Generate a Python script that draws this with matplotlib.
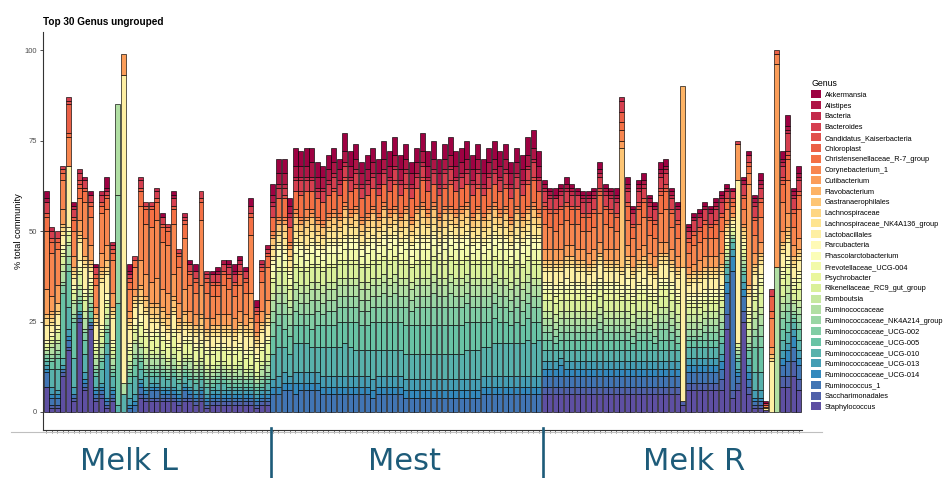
import numpy as np
import matplotlib
matplotlib.use("Agg")
import matplotlib.pyplot as plt
from matplotlib.colors import LinearSegmentedColormap
from matplotlib.patches import Patch
from matplotlib.lines import Line2D

# genus names, first level is drawn on top of each stack
genus = ["Akkermansia", "Alistipes", "Bacteria", "Bacteroides", "Candidatus_Kaiserbacteria",
         "Chloroplast", "Christensenellaceae_R-7_group", "Corynebacterium_1", "Cutibacterium",
         "Flavobacterium", "Gastranaerophilales", "Lachnospiraceae", "Lachnospiraceae_NK4A136_group",
         "Lactobacillales", "Parcubacteria", "Phascolarctobacterium", "Prevotellaceae_UCG-004",
         "Psychrobacter", "Rikenellaceae_RC9_gut_group", "Romboutsia", "Ruminococcaceae",
         "Ruminococcaceae_NK4A214_group", "Ruminococcaceae_UCG-002", "Ruminococcaceae_UCG-005",
         "Ruminococcaceae_UCG-010", "Ruminococcaceae_UCG-013", "Ruminococcaceae_UCG-014",
         "Ruminococcus_1", "Saccharimonadales", "Staphylococcus"]

groups = ["Melk L", "Mest", "Melk R"]

# % abundance per sample, one row per sample, columns follow `genus`
melk_l = [
    [2,1,0,3,0,1, 4,16,7,0,1,2, 0,4,1,0,0,1, 1,0,1,0,1,1, 1,1,1,4,0,7],
    [0,0,1,2,0,1, 3,12,4,1,1,1, 1,2,1,0,0,1, 1,1,2,1,1,2, 5,2,1,2,1,1],
    [0,0,0,2,0,1, 2,10,5,0,2,1, 0,3,1,0,0,1, 2,1,2,1,1,3, 6,1,1,2,1,1],
    [0,0,0,1,0,1, 2,8,4,0,1,1, 1,3,1,0,1,1, 2,2,3,1,2,18, 2,1,0,1,1,10],
    [0,0,0,1,1,8, 1,8,0,0,0,0, 0,17,1,0,0,1, 2,1,3,2,2,10, 6,2,1,2,1,17],
    [1,0,1,2,0,1, 3,7,3,0,1,1, 1,2,1,0,0,1, 2,1,3,1,1,10, 8,2,0,1,1,3],
    [0,0,1,2,1,1, 3,6,3,1,0,1, 1,5,2,0,1,1, 3,1,2,1,1,2, 0,1,0,1,1,25],
    [0,1,0,2,0,1, 3,10,5,0,1,1, 1,6,1,0,1,1, 3,2,3,1,2,4, 5,2,1,1,1,6],
    [1,0,0,2,0,1, 3,8,4,0,1,1, 1,2,1,0,1,1, 1,1,2,1,1,2, 1,0,0,1,1,23],
    [1,0,0,2,0,1, 2,6,2,0,1,1, 1,4,1,0,1,1, 1,1,2,1,1,1, 3,1,1,1,1,3],
    [0,0,1,2,0,1, 2,11,4,1,1,1, 1,12,1,0,1,1, 2,1,2,1,1,2, 4,1,1,1,1,4],
    [3,1,0,1,0,1, 3,10,4,0,2,1, 1,5,2,0,1,1, 2,1,2,1,1,3, 3,12,1,1,1,1],
    [0,0,1,1,0,1, 2,9,4,0,1,1, 1,6,1,0,1,1, 1,1,2,1,1,1, 3,1,1,1,1,3],
    [0,0,0,0,0,0, 0,0,0,0,0,0, 0,0,0,0,0,0, 0,0,25,30,0,28, 2,0,0,0,0,0],
    [0,0,0,0,0,0, 0,0,6,0,0,0, 0,85,0,0,0,0, 0,0,3,0,0,0, 5,0,0,0,0,0],
    [2,1,0,1,0,1, 2,6,2,0,1,1, 1,4,1,0,1,1, 2,1,1,1,1,2, 4,2,1,1,0,0],
    [0,0,0,1,0,0, 2,6,2,0,1,1, 1,3,2,0,1,1, 2,1,3,1,2,3, 5,2,1,2,0,0],
    [0,0,1,2,0,1, 4,15,7,1,2,1, 1,3,2,0,1,3, 2,1,2,1,1,2, 3,1,1,2,1,4],
    [0,0,0,1,0,1, 4,14,6,1,2,1, 1,4,1,0,1,3, 2,1,2,1,1,1, 3,1,1,1,1,3],
    [0,0,0,1,0,1, 5,15,6,1,2,1, 1,3,1,0,1,3, 1,1,2,1,1,1, 2,1,1,2,1,3],
    [0,0,1,2,0,1, 5,16,7,1,2,1, 1,2,1,0,1,3, 2,1,2,1,1,1, 2,1,1,2,1,3],
    [1,0,0,2,0,1, 4,13,5,1,2,1, 1,2,1,0,1,3, 1,1,2,1,1,1, 3,1,1,1,1,3],
    [0,0,0,1,0,1, 4,13,6,1,2,1, 1,2,1,0,1,3, 1,1,1,1,1,1, 2,1,1,1,1,3],
    [1,1,0,2,0,1, 4,14,6,1,2,1, 1,4,1,0,1,3, 2,1,2,1,1,1, 3,1,1,1,1,3],
    [0,0,0,1,0,1, 3,10,4,1,1,1, 1,3,1,0,1,3, 1,1,1,1,1,1, 2,1,1,1,1,2],
    [0,0,1,1,0,1, 4,14,6,1,2,1, 1,2,1,0,1,3, 1,1,1,1,1,1, 2,1,1,2,1,3],
    [1,0,0,2,0,1, 3,7,3,0,1,1, 1,1,1,0,1,3, 1,1,2,1,1,1, 2,1,1,1,1,3],
    [2,0,0,2,0,1, 3,6,3,0,1,1, 1,2,1,0,1,3, 1,1,1,1,1,1, 2,1,1,1,1,2],
    [0,0,0,2,0,1, 5,18,8,1,2,1, 1,2,1,0,1,3, 1,1,1,1,1,1, 2,1,1,1,1,3],
    [0,0,1,1,0,1, 3,7,3,0,1,1, 1,2,1,0,1,3, 1,1,1,1,1,1, 2,1,1,1,1,1],
    [1,0,0,2,0,1, 3,6,2,0,1,1, 1,3,1,0,1,3, 1,1,1,1,1,1, 1,1,1,1,1,2],
    [1,1,0,2,0,1, 3,5,3,0,1,1, 1,2,1,0,1,3, 1,1,1,1,1,1, 2,1,1,1,1,2],
    [0,1,0,2,0,1, 3,8,3,0,1,1, 1,2,1,0,1,3, 1,1,1,1,1,1, 2,1,1,1,1,2],
    [1,0,1,2,0,1, 3,7,3,0,1,1, 1,3,1,0,1,3, 1,1,1,1,1,1, 1,1,1,1,1,2],
    [2,1,0,2,0,1, 3,6,3,0,1,1, 1,2,1,0,1,3, 1,1,1,1,1,1, 1,1,1,1,1,2],
    [1,0,1,2,0,1, 3,7,3,0,1,1, 1,3,1,0,1,3, 1,1,2,1,1,1, 1,1,1,1,1,2],
    [1,0,0,2,0,1, 3,6,3,0,1,1, 1,4,1,0,1,3, 1,1,1,0,1,1, 1,1,1,1,1,2],
    [2,0,0,2,0,1, 5,16,7,1,2,1, 1,3,1,0,1,3, 1,1,1,1,1,1, 1,1,1,1,1,2],
    [2,0,0,1,0,1, 2,3,1,0,1,1, 1,2,1,0,1,3, 1,1,1,0,1,1, 1,1,1,1,1,1],
    [0,0,1,1,0,1, 3,8,3,0,1,1, 1,3,1,0,1,3, 1,1,2,1,1,1, 1,1,1,1,1,2],
    [0,1,0,1,0,1, 3,9,4,0,1,1, 1,3,1,0,1,3, 2,1,2,1,1,1, 2,1,1,1,1,2],
]

mest = [
    [3,2,1,3,0,0, 4,1,1,0,2,1, 2,1,1,2,2,1, 3,2,3,3,4,5, 7,2,2,5,0,0],
    [4,3,1,3,0,0, 5,1,1,0,2,1, 2,1,1,2,3,1, 4,2,3,3,3,6, 8,3,2,5,0,0],
    [4,3,1,2,1,0, 5,1,1,0,2,2, 2,1,1,2,2,1, 4,2,3,3,4,5, 7,3,2,6,0,0],
    [2,2,1,3,0,0, 4,1,1,0,2,1, 2,1,1,1,2,1, 3,2,2,3,3,5, 6,2,2,6,0,0],
    [5,3,1,3,0,0, 5,1,1,0,2,2, 2,1,1,2,3,1, 4,2,3,3,4,5, 8,3,3,5,0,0],
    [4,3,1,3,1,0, 6,1,1,0,2,1, 2,1,1,2,3,1, 4,2,3,3,3,5, 8,3,2,6,0,0],
    [5,3,1,3,0,0, 5,2,1,0,2,2, 3,1,1,2,2,1, 4,2,3,3,3,5, 8,3,2,6,0,0],
    [4,4,1,3,0,0, 5,1,1,0,2,2, 2,1,1,2,3,1, 4,2,3,4,4,5, 7,3,2,6,0,0],
    [4,3,1,2,0,0, 5,1,1,0,2,1, 2,1,1,2,2,1, 4,2,3,3,4,6, 7,3,2,6,0,0],
    [3,3,1,3,0,0, 5,1,1,0,2,1, 2,1,1,2,2,1, 4,2,3,3,3,6, 8,3,2,5,0,0],
    [4,3,1,3,0,0, 5,1,1,0,2,1, 2,1,1,2,3,1, 4,2,3,3,4,6, 8,3,2,5,0,0],
    [4,3,1,3,1,0, 5,1,1,0,2,2, 2,1,1,2,3,1, 4,2,3,3,4,6, 8,3,2,5,0,0],
    [3,3,1,3,0,0, 5,1,1,0,2,1, 2,1,1,2,2,1, 4,2,3,3,4,7, 8,3,2,5,0,0],
    [5,3,1,3,1,0, 6,1,1,0,2,2, 3,1,1,2,3,1, 4,2,3,3,4,6, 9,3,2,5,0,0],
    [4,3,1,3,0,0, 5,1,1,0,2,1, 2,1,1,2,3,1, 4,2,3,3,4,7, 8,3,2,5,0,0],
    [4,3,1,3,1,0, 5,1,1,0,2,2, 2,1,1,2,3,1, 4,2,3,3,4,8, 7,3,2,5,0,0],
    [3,3,1,3,0,0, 5,1,1,0,2,1, 2,1,1,2,2,1, 4,2,3,3,4,7, 7,3,2,5,0,0],
    [4,3,1,3,0,0, 5,1,1,0,2,1, 2,1,1,2,3,1, 4,2,3,3,4,7, 7,3,2,5,0,0],
    [4,3,1,3,0,0, 5,1,1,0,2,2, 2,1,1,2,3,1, 4,2,3,3,4,8, 8,3,2,4,0,0],
    [4,3,1,2,0,0, 5,1,1,0,2,1, 2,1,1,2,2,1, 4,2,3,3,4,8, 7,3,2,5,0,0],
    [5,3,1,3,0,0, 5,1,1,0,2,2, 2,1,1,2,3,1, 4,2,3,4,4,8, 7,3,2,5,0,0],
    [4,3,1,3,0,0, 5,1,1,0,2,1, 2,1,1,2,3,1, 4,2,3,3,4,8, 7,3,2,5,0,0],
    [5,3,1,3,1,0, 6,1,1,0,2,1, 2,1,1,2,3,1, 4,2,3,4,4,8, 7,3,2,5,0,0],
    [4,3,1,3,0,0, 5,1,1,0,2,1, 2,1,1,2,2,1, 4,2,3,3,4,8, 7,3,2,5,0,0],
    [4,3,1,3,1,0, 5,1,1,0,2,2, 2,1,1,2,3,1, 4,2,3,3,5,8, 7,3,2,4,0,0],
    [3,3,1,3,0,0, 5,1,1,0,2,1, 2,1,1,2,2,1, 4,2,3,3,4,8, 7,3,2,4,0,0],
    [4,3,1,3,0,0, 5,1,1,0,2,2, 2,1,1,2,3,1, 4,2,3,3,5,8, 7,3,2,4,0,0],
    [5,3,1,3,1,0, 6,1,1,0,2,2, 3,1,1,2,3,1, 4,2,3,3,5,8, 7,3,2,4,0,0],
    [4,3,1,3,0,0, 5,1,1,0,2,1, 2,1,1,2,3,1, 4,2,3,3,5,8, 7,3,2,4,0,0],
    [5,3,1,3,0,0, 5,1,1,0,2,2, 2,1,1,2,3,1, 4,2,3,4,5,8, 7,3,2,4,0,0],
    [4,3,1,2,0,0, 5,1,1,0,2,1, 2,1,1,2,2,1, 4,2,3,3,5,8, 7,3,2,4,0,0],
    [4,3,1,3,1,0, 5,1,1,0,2,2, 2,1,1,2,3,1, 4,2,3,3,5,8, 7,3,2,4,0,0],
    [5,3,1,3,1,0, 6,1,1,0,2,1, 2,1,1,2,3,1, 4,2,3,4,5,8, 7,3,2,4,0,0],
    [4,3,1,3,0,0, 5,1,1,0,2,1, 2,1,1,2,3,1, 4,2,3,3,5,8, 7,3,2,4,0,0],
    [4,3,1,3,0,0, 5,1,1,0,2,2, 2,1,1,2,3,1, 4,2,3,3,5,8, 7,3,2,4,0,0],
    [5,3,1,3,0,0, 5,1,1,0,2,2, 2,1,1,2,3,1, 4,2,3,3,5,8, 8,3,2,4,0,0],
    [4,3,1,3,0,0, 5,1,1,0,2,1, 2,1,1,2,2,1, 4,2,3,3,4,8, 8,3,2,4,0,0],
    [4,3,1,3,1,0, 5,1,1,0,2,2, 2,1,1,2,3,1, 4,2,3,3,4,8, 8,3,2,4,0,0],
    [4,3,1,2,0,0, 5,1,1,0,2,1, 2,1,1,2,2,1, 4,2,3,3,4,7, 8,3,2,5,0,0],
    [4,3,1,3,0,0, 5,1,1,0,2,2, 2,1,1,2,3,1, 4,2,3,3,4,7, 8,3,2,5,0,0],
    [5,3,1,3,0,0, 5,1,1,0,2,2, 2,1,1,2,3,1, 4,2,3,3,4,7, 9,3,2,5,0,0],
    [4,3,1,3,0,0, 5,1,1,0,2,1, 2,1,1,2,3,1, 4,2,3,3,4,6, 9,3,2,5,0,0],
    [4,3,1,3,1,0, 5,1,1,0,2,2, 2,1,1,2,3,1, 4,2,3,3,4,6, 9,3,2,5,0,0],
    [3,3,1,3,0,0, 5,1,1,0,2,1, 2,1,1,2,2,1, 4,2,3,3,4,5, 9,3,2,5,0,0],
    [4,3,1,3,0,0, 5,1,1,0,2,2, 2,1,1,2,3,1, 4,2,3,3,4,6, 9,3,2,5,0,0],
    [4,3,1,3,0,0, 5,1,1,0,2,1, 2,1,1,2,3,1, 4,2,3,3,4,5, 9,3,2,5,0,0],
    [5,3,1,3,1,0, 6,1,1,0,2,1, 2,1,1,2,3,1, 4,2,3,3,4,6, 10,3,2,5,0,0],
    [5,3,1,4,1,0, 6,1,1,0,2,2, 3,1,1,2,3,1, 4,2,3,3,4,6, 9,3,2,5,0,0],
    [4,3,1,3,0,0, 5,1,1,0,2,1, 2,1,1,2,3,1, 4,2,3,3,4,5, 10,3,2,5,0,0],
]

melk_r = [
    [1,1,1,3,1,1, 4,7,3,0,1,1, 1,3,1,1,1,2, 3,2,2,2,2,3, 3,2,2,3,2,5],
    [1,1,1,3,0,1, 4,6,3,0,1,1, 1,3,1,1,1,2, 3,2,2,2,2,3, 3,2,2,3,2,5],
    [2,1,0,3,0,1, 5,5,3,0,1,1, 1,4,1,1,1,2, 3,2,2,2,2,2, 3,2,2,3,2,5],
    [1,1,1,3,0,1, 4,7,3,0,1,1, 1,3,1,1,1,2, 3,2,2,2,2,3, 2,2,3,3,2,5],
    [2,1,1,3,0,1, 4,7,3,0,1,1, 1,3,2,1,1,2, 3,2,2,2,2,3, 3,2,2,3,2,5],
    [1,1,1,3,0,1, 4,6,3,0,1,1, 1,4,1,1,1,2, 3,2,2,2,2,3, 3,2,2,3,2,5],
    [1,1,0,3,0,1, 4,7,3,0,1,1, 1,3,1,1,1,2, 3,2,2,2,2,3, 3,2,2,3,2,5],
    [1,1,1,3,0,1, 4,5,3,0,1,1, 1,3,1,1,1,2, 3,2,2,2,2,3, 3,2,2,3,2,5],
    [1,1,1,3,0,1, 4,6,3,0,1,1, 1,3,1,1,1,1, 3,2,2,2,2,3, 3,2,2,3,2,5],
    [1,1,1,3,0,1, 4,6,3,0,1,1, 1,3,1,1,1,2, 3,2,2,2,2,3, 3,2,2,3,2,5],
    [2,1,1,3,1,1, 5,8,3,0,1,1, 1,4,1,1,1,2, 3,2,2,2,3,3, 3,2,2,3,2,5],
    [1,1,1,3,0,1, 4,7,3,0,1,1, 1,3,1,1,1,2, 3,2,2,2,2,3, 3,2,2,3,2,5],
    [1,1,1,3,0,1, 4,6,3,0,1,1, 1,3,1,1,1,2, 3,2,2,2,2,3, 3,2,2,3,2,5],
    [2,1,1,3,0,1, 4,5,3,0,1,1, 1,3,1,1,1,2, 3,2,2,2,2,3, 3,2,2,3,2,5],
    [0,0,1,3,0,3, 2,3,2,0,33,1, 1,3,1,1,1,1, 3,2,2,2,2,3, 3,2,2,3,2,5],
    [2,1,1,3,0,1, 4,7,3,0,1,1, 1,3,2,1,1,2, 3,2,2,2,2,3, 3,2,2,3,2,5],
    [1,1,0,3,0,1, 3,5,3,0,1,1, 1,3,1,1,1,1, 3,2,2,2,2,2, 3,2,2,3,2,5],
    [1,1,1,3,1,1, 4,7,3,0,1,1, 1,3,1,1,1,2, 3,2,2,2,2,3, 3,2,2,3,2,5],
    [2,1,1,3,0,1, 4,8,3,0,1,1, 1,3,2,1,1,2, 3,2,2,2,2,3, 3,2,2,3,2,5],
    [1,1,1,3,0,1, 4,5,3,0,1,1, 1,3,1,1,1,1, 3,2,2,2,2,3, 3,2,2,3,2,5],
    [1,1,0,3,0,1, 4,5,3,0,1,1, 1,3,1,1,1,1, 3,2,2,2,2,2, 3,2,2,3,2,5],
    [2,1,1,3,1,1, 5,8,3,0,1,1, 1,4,1,1,1,2, 3,2,2,2,3,3, 3,2,2,3,2,5],
    [2,1,1,3,1,1, 5,9,3,0,1,1, 1,4,1,1,1,2, 3,2,2,2,3,3, 3,2,2,3,2,5],
    [1,1,1,3,0,1, 4,6,3,0,1,1, 1,3,1,1,1,2, 3,2,2,2,2,3, 3,2,2,3,2,5],
    [1,1,0,3,0,1, 4,5,3,0,1,1, 1,3,1,1,1,1, 3,2,2,2,2,2, 3,2,2,3,2,5],
    [0,0,0,0,0,0, 0,0,0,50,0,0, 0,37,0,0,0,0, 0,0,0,0,0,0, 0,0,0,0,1,2],
    [1,1,0,2,0,1, 3,4,2,0,1,1, 1,2,1,1,1,1, 2,2,2,2,1,2, 3,2,2,3,2,6],
    [1,1,0,3,0,1, 3,5,2,0,1,1, 1,3,1,1,1,1, 2,2,2,2,1,2, 3,2,2,3,2,6],
    [1,1,0,3,0,1, 3,5,3,0,1,1, 1,3,1,1,1,1, 2,2,2,2,1,2, 3,2,2,3,2,6],
    [1,1,0,3,0,1, 4,5,3,0,1,1, 1,3,1,1,1,1, 2,2,2,2,2,2, 3,2,2,3,2,6],
    [1,1,0,3,0,1, 3,5,3,0,1,1, 1,3,1,1,1,1, 2,2,2,2,2,2, 3,2,2,3,2,6],
    [1,1,1,3,0,1, 4,5,3,0,1,1, 1,3,1,1,1,1, 2,2,2,2,2,2, 3,2,2,3,2,6],
    [1,1,1,3,0,1, 4,6,3,0,1,1, 1,3,1,1,1,1, 2,2,2,2,2,2, 3,2,2,3,3,6],
    [1,1,0,2,0,1, 2,3,1,0,1,1, 1,1,1,0,1,1, 1,1,1,0,1,1, 2,2,3,6,4,23],
    [1,0,0,2,0,1, 1,2,1,0,0,1, 0,1,1,0,0,1, 1,0,1,0,0,1, 2,2,4,33,2,4],
    [0,0,0,1,0,0, 0,0,10,0,0,0, 0,45,0,0,0,0, 1,1,1,0,1,1, 2,1,1,2,2,6],
    [1,1,0,3,0,1, 3,4,1,0,1,1, 1,1,1,0,1,1, 1,1,1,1,1,1, 2,2,2,4,3,25],
    [1,0,0,2,0,1, 2,3,28,0,1,1, 1,3,1,1,1,1, 2,2,2,1,1,2, 2,2,2,2,2,5],
    [1,1,1,3,0,1, 4,5,3,0,1,1, 1,3,1,1,1,1, 3,2,3,2,3,7, 5,2,1,1,1,1],
    [2,1,1,3,0,1, 4,7,3,0,1,1, 1,3,1,1,1,2, 4,2,3,3,3,7, 5,2,1,1,1,1],
    [0.5,0,0,0.5,0,0, 0,0.5,0.5,0,0,0, 0,0.5,0,0,0,0, 0,0,0,0,0,0, 0,0,0,0,0,0.5],
    [0,0,0,2,0,4, 2,8,2,0,1,1, 0,14,0,0,0,0, 0,0,0,0,0,0, 0,0,0,0,0,0],
    [0,0,0,0,0,1, 0,3,56,0,0,0, 0,0,0,0,0,0, 0,0,40,0,0,0, 0,0,0,0,0,0],
    [2,1,1,3,1,1, 5,8,3,0,1,1, 1,4,1,1,1,2, 3,2,2,2,3,3, 3,2,2,3,3,7],
    [3,1,1,5,1,1, 6,9,4,1,1,1, 1,4,1,1,1,2, 3,2,3,2,3,3, 3,2,3,4,3,7],
    [1,1,1,3,0,1, 4,5,3,0,1,1, 1,3,1,1,1,1, 2,1,2,1,1,1, 2,2,3,4,4,10],
    [2,1,1,3,0,1, 4,8,3,0,1,1, 1,3,1,1,1,2, 3,2,2,2,2,3, 3,2,2,4,3,6],
]

spectral = ["#9E0142", "#D53E4F", "#F46D43", "#FDAE61", "#FEE08B", "#FFFFBF",
            "#E6F598", "#ABDDA4", "#66C2A5", "#3288BD", "#5E4FA2"]
cmap = LinearSegmentedColormap.from_list("spec", spectral)
colors = [cmap(v) for v in np.linspace(0, 1, len(genus))]

teal = "#1D5B79"
W, H = 946, 478

data = np.array(melk_l + mest + melk_r, dtype=float)
x = np.arange(len(data))

fig = plt.figure(figsize=(W / 100, H / 100), dpi=100)
ax = fig.add_axes([42.7 / W, 1 - 430.1 / H, 759.4 / W, 398.2 / H])

bottom = np.zeros(len(data))
for g in range(len(genus) - 1, -1, -1):
    vals = data[:, g]
    m = vals > 0
    ax.bar(x[m], vals[m], 0.9, bottom=bottom[m], color=colors[g],
           edgecolor="black", linewidth=0.45)
    bottom += vals

ax.set_xlim(-0.6, len(data) - 0.4)
ax.set_ylim(-5, 105)
for s in ["top", "right"]:
    ax.spines[s].set_visible(False)
for s in ["left", "bottom"]:
    ax.spines[s].set_color("#333333")
    ax.spines[s].set_linewidth(0.8)

ax.set_xticks(x)
ax.tick_params(axis="x", length=2.2, width=0.5, color="#444444", labelbottom=False)
ax.set_yticks([0, 25, 50, 75, 100])
ax.set_yticklabels(["0", "25", "50", "75", "100"], fontsize=5.5, color="#4D4D4D",
                   family="Liberation Sans")
ax.tick_params(axis="y", length=2.5, width=0.6, color="#333333", pad=1.5)

fig.text(19 / W, 1 - 231 / H, "% total community", rotation=90, ha="center", va="center",
         fontsize=6.7, family="Liberation Sans")
fig.text(43 / W, 1 - 22 / H, "Top 30 Genus ungrouped", ha="left", va="center",
         fontsize=7.2, fontweight="bold", family="Liberation Sans")

handles = [Patch(facecolor=c, edgecolor="none") for c in colors]
leg = ax.legend(handles, genus, loc="upper left", bbox_to_anchor=(811 / W, 1 - 79 / H),
                bbox_transform=fig.transFigure, frameon=False, title="Genus",
                title_fontsize=6.3, handlelength=1.35, handleheight=1.3,
                labelspacing=0.31, handletextpad=0.5, borderpad=0, borderaxespad=0,
                alignment="left", prop={"family": "Liberation Sans", "size": 5.3})
leg.get_title().set_family("Liberation Sans")

# section labels under the axis
fig.add_artist(Line2D([11 / W, 822 / W], [1 - 432 / H, 1 - 432 / H], color="#BFBFBF", lw=0.8))
for xs in [270.7, 543.3]:
    fig.add_artist(Line2D([xs / W, xs / W], [0, 1 - 428 / H], color=teal, lw=1.9))
for name, xc in zip(groups, [128.5, 404, 694]):
    fig.text(xc / W, 1 - 470 / H, name, ha="center", va="baseline", fontsize=22,
             color=teal, family="DejaVu Sans")

fig.savefig("out.png", dpi=100)
